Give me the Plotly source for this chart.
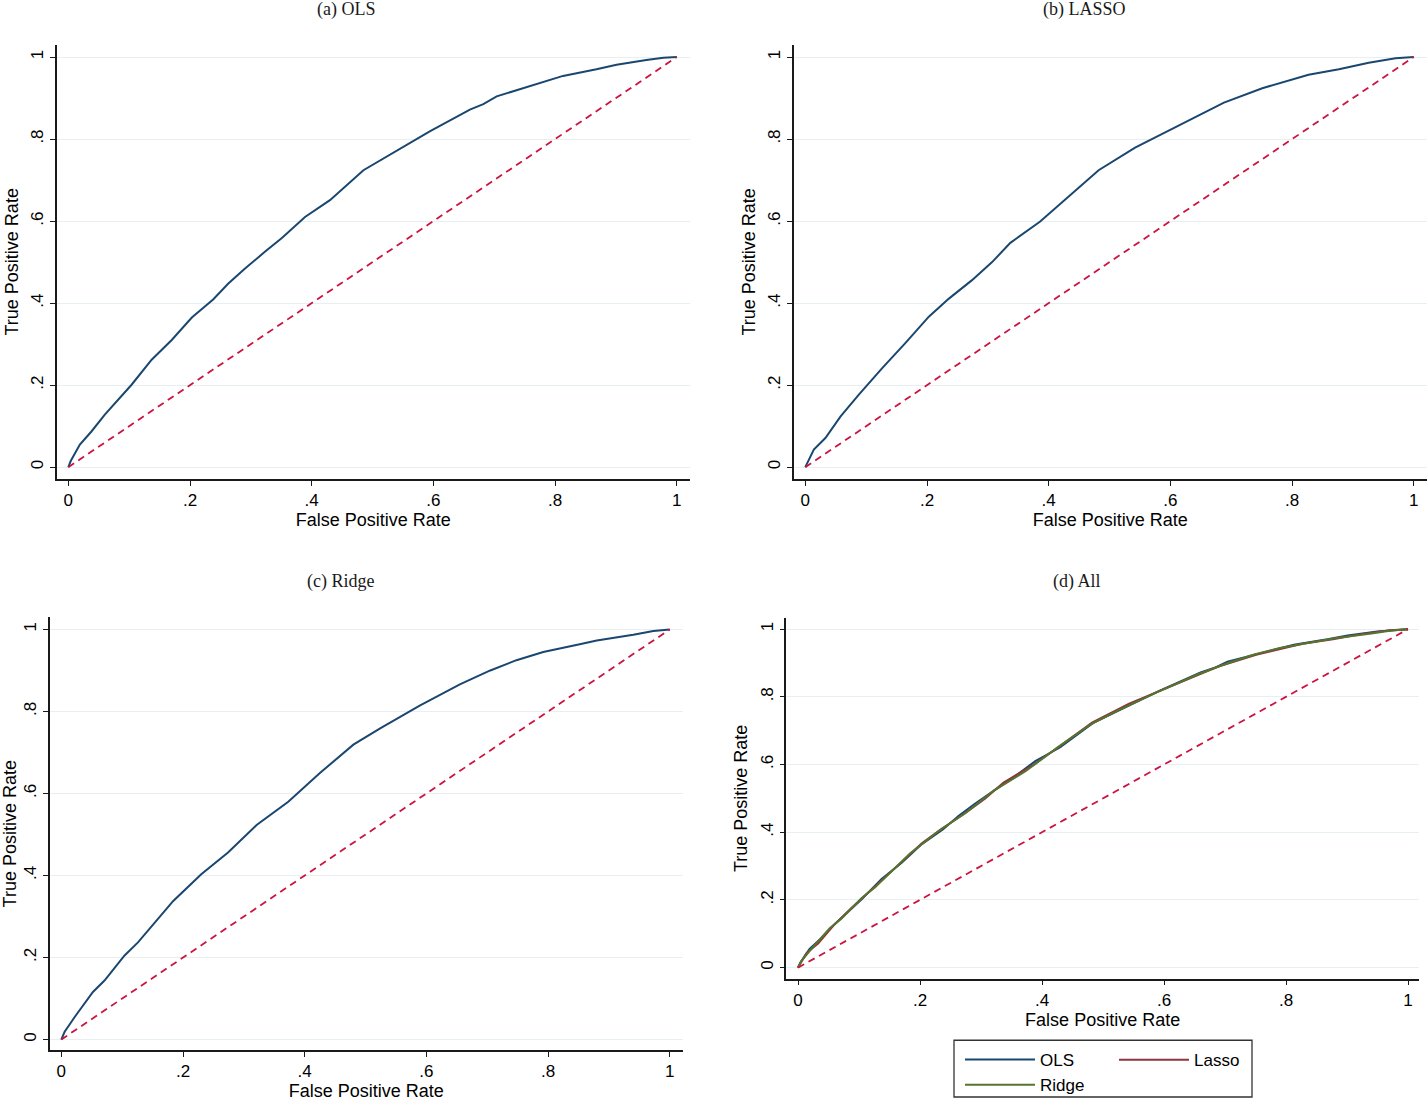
import plotly.graph_objects as go

# ---------------- data ----------------
ols_fpr = [0, 0.004, 0.019, 0.038, 0.060, 0.082, 0.104, 0.137, 0.170, 0.203, 0.238, 0.263, 0.290,
           0.323, 0.351, 0.389, 0.430, 0.485, 0.540, 0.594, 0.660, 0.682, 0.704, 0.759, 0.813,
           0.868, 0.901, 0.950, 0.978, 1.0]
ols_tpr = [0, 0.015, 0.055, 0.087, 0.128, 0.164, 0.201, 0.262, 0.310, 0.365, 0.409, 0.448, 0.484,
           0.525, 0.559, 0.610, 0.651, 0.724, 0.771, 0.819, 0.872, 0.885, 0.904, 0.930, 0.954,
           0.970, 0.981, 0.993, 0.998, 1.0]

lasso_fpr = [0, 0.014, 0.033, 0.058, 0.088, 0.126, 0.164, 0.203, 0.236, 0.274, 0.307, 0.337, 0.386,
             0.422, 0.482, 0.542, 0.614, 0.688, 0.751, 0.827, 0.877, 0.926, 0.970, 1.0]
lasso_tpr = [0, 0.043, 0.071, 0.124, 0.177, 0.241, 0.302, 0.367, 0.411, 0.456, 0.500, 0.547, 0.599,
             0.645, 0.724, 0.779, 0.833, 0.889, 0.924, 0.957, 0.970, 0.986, 0.997, 1.0]

ridge_fpr = [0, 0.0055, 0.022, 0.052, 0.071, 0.104, 0.126, 0.184, 0.230, 0.274, 0.321, 0.373, 0.425,
             0.480, 0.524, 0.589, 0.655, 0.705, 0.748, 0.792, 0.852, 0.880, 0.940, 0.973, 1.0]
ridge_tpr = [0, 0.019, 0.055, 0.116, 0.144, 0.205, 0.237, 0.338, 0.403, 0.456, 0.523, 0.580, 0.650,
             0.719, 0.759, 0.814, 0.866, 0.900, 0.925, 0.945, 0.964, 0.973, 0.987, 0.996, 1.0]

diag_x = [0, 1]
diag_y = [0, 1]

tick_vals = [0, 0.2, 0.4, 0.6, 0.8, 1]
tick_text = ["0", ".2", ".4", ".6", ".8", "1"]

panel_titles = ["(a) OLS", "(b) LASSO", "(c) Ridge", "(d) All"]
x_title = "False Positive Rate"
y_title = "True Positive Rate"
legend_names = ["OLS", "Lasso", "Ridge"]

# ---------------- styling ----------------
W, H = 1427, 1103
NAVY = "#1a476f"
MAROON = "#90353b"
GREEN = "#55752f"
DIAG = "#cc1440"
GRID = "#e8eff2"
SANS = "Liberation Sans, Arial, sans-serif"
SERIF = "Liberation Serif, Times New Roman, serif"

# panel geometry in pixels: (x_left, x_right, y_top, y_bottom, x0px, xscale, y0px, yscale)
panels = [
    (56.7, 690.0, 45.0, 481.0, 68.3, 608.5, 469.3, 412.0),
    (793.7, 1427.0, 45.0, 481.0, 805.3, 608.5, 469.3, 412.0),
    (49.7, 683.0, 620.0, 1055.0, 61.3, 608.5, 1044.3, 412.0),
    (786.3, 1419.0, 621.0, 983.0, 798.0, 610.0, 972.0, 340.0),
]
title_pos = [(346, 10), (1084, 10), (340, 584), (1077, 584)]

fig = go.Figure()

series_single = [(ols_fpr, ols_tpr), (lasso_fpr, lasso_tpr), (ridge_fpr, ridge_tpr)]

for i in range(3):
    ax = "" if i == 0 else str(i + 1)
    fx, fy = series_single[i]
    fig.add_trace(go.Scatter(x=fx, y=fy, mode="lines", line=dict(color=NAVY, width=2),
                             xaxis="x" + ax, yaxis="y" + ax, showlegend=False, hoverinfo="skip"))
    fig.add_trace(go.Scatter(x=diag_x, y=diag_y, mode="lines",
                             line=dict(color=DIAG, width=1.8, dash="7px,5px"),
                             xaxis="x" + ax, yaxis="y" + ax, showlegend=False, hoverinfo="skip"))

# panel d
fig.add_trace(go.Scatter(x=ols_fpr, y=ols_tpr, mode="lines", name=legend_names[0],
                         line=dict(color=NAVY, width=2), xaxis="x4", yaxis="y4",
                         legend="legend", legendgroup="a", legendrank=1))
fig.add_trace(go.Scatter(x=lasso_fpr, y=lasso_tpr, mode="lines", name=legend_names[1],
                         line=dict(color=MAROON, width=2), xaxis="x4", yaxis="y4",
                         legend="legend2", legendgroup="b"))
fig.add_trace(go.Scatter(x=ridge_fpr, y=ridge_tpr, mode="lines", name=legend_names[2],
                         line=dict(color=GREEN, width=2), xaxis="x4", yaxis="y4",
                         legend="legend", legendgroup="c", legendrank=2))
fig.add_trace(go.Scatter(x=diag_x, y=diag_y, mode="lines",
                         line=dict(color=DIAG, width=1.8, dash="7px,5px"),
                         xaxis="x4", yaxis="y4", showlegend=False, hoverinfo="skip"))

layout = dict(
    width=W, height=H,
    margin=dict(l=0, r=0, t=0, b=0),
    paper_bgcolor="white", plot_bgcolor="white",
    font=dict(family=SANS, color="#000000"),
    showlegend=True,
)

for i, (xl, xr, yt, yb, x0p, xs, y0p, ys) in enumerate(panels):
    ax = "" if i == 0 else str(i + 1)
    xrange = [(xl - x0p) / xs, (xr - x0p) / xs]
    yrange = [(y0p - yb) / ys, (y0p - yt) / ys]
    layout["xaxis" + ax] = dict(
        domain=[xl / W, xr / W], range=xrange, anchor="y" + ax,
        showgrid=False, zeroline=False, showline=True, linecolor="#1a1a1a", linewidth=1.5,
        ticks="outside", ticklen=5, tickwidth=1.3, tickcolor="#1a1a1a",
        tickvals=tick_vals, ticktext=tick_text, tickfont=dict(size=17, family=SANS),
        title=dict(text=x_title, font=dict(size=18, family=SANS), standoff=3),
        automargin=False, fixedrange=True,
    )
    layout["yaxis" + ax] = dict(
        domain=[1 - yb / H, 1 - yt / H], range=yrange, anchor="x" + ax,
        showgrid=True, gridcolor=GRID, gridwidth=1.3, zeroline=False,
        showline=True, linecolor="#1a1a1a", linewidth=1.5,
        ticks="outside", ticklen=5, tickwidth=1.3, tickcolor="#1a1a1a",
        tickvals=tick_vals, ticktext=tick_text, tickangle=-90, tickfont=dict(size=17, family=SANS),
        title=dict(text=y_title, font=dict(size=18, family=SANS), standoff=5),
        automargin=False, fixedrange=True,
    )

layout["legend"] = dict(
    x=960 / W, y=1 - 1047 / H, xanchor="left", yanchor="top",
    orientation="v", bgcolor="rgba(0,0,0,0)", borderwidth=0, itemwidth=70,
    font=dict(size=17, family=SANS), tracegroupgap=2, traceorder="normal",
)
layout["legend2"] = dict(
    x=1114 / W, y=1 - 1047 / H, xanchor="left", yanchor="top",
    orientation="v", bgcolor="rgba(0,0,0,0)", borderwidth=0, itemwidth=70,
    font=dict(size=17, family=SANS),
)

annotations = []
for (tx, ty), t in zip(title_pos, panel_titles):
    annotations.append(dict(text=t, x=tx / W, y=1 - ty / H, xref="paper", yref="paper",
                            xanchor="center", yanchor="middle", showarrow=False,
                            font=dict(family=SERIF, size=18, color="#1a1a1a")))
layout["annotations"] = annotations

layout["shapes"] = [dict(type="rect", xref="paper", yref="paper",
                         x0=954 / W, x1=1252 / W, y0=1 - 1102 / H, y1=1 - 1045 / H,
                         line=dict(color="#333333", width=1.3), fillcolor="rgba(0,0,0,0)")]

fig.update_layout(**layout)
fig.write_html("out.html",
               config={"displayModeBar": False},
               post_script="document.body.style.margin='0';document.body.style.padding='0';"
                           "document.documentElement.style.overflow='hidden';")
